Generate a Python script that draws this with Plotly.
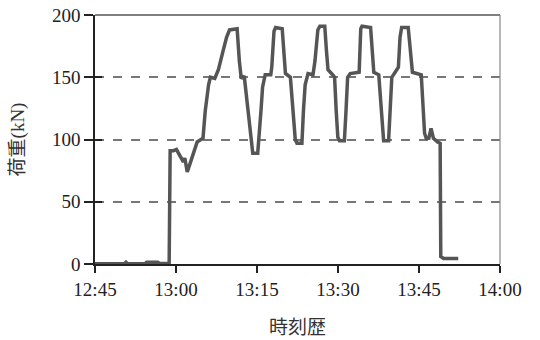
import plotly.graph_objects as go

DAY = "2000-01-01 "

times = [
    "12:45:00", "12:50:27", "12:50:44", "12:51:00", "12:54:16", "12:54:33",
    "12:56:38", "12:56:55", "12:58:44", "12:58:55", "12:59:33", "13:00:05",
    "13:00:35", "13:01:00", "13:01:22", "13:01:38", "13:02:05", "13:02:38",
    "13:03:19", "13:03:55", "13:05:00", "13:05:25", "13:06:02", "13:06:22",
    "13:07:11", "13:07:51", "13:08:46", "13:09:22", "13:09:55", "13:11:19",
    "13:11:44", "13:12:05", "13:12:38", "13:13:19", "13:13:55", "13:14:13",
    "13:15:08", "13:15:25", "13:15:44", "13:16:02", "13:16:31", "13:17:33",
    "13:17:44", "13:18:09", "13:18:27", "13:19:40", "13:19:58", "13:20:16",
    "13:21:11", "13:21:29", "13:21:47", "13:22:05", "13:22:24", "13:23:19",
    "13:23:36", "13:23:55", "13:24:27", "13:25:22", "13:25:44", "13:26:16",
    "13:26:38", "13:27:33", "13:27:51", "13:28:09", "13:29:00", "13:29:22",
    "13:29:40", "13:29:58", "13:30:16", "13:31:11", "13:31:29", "13:31:47",
    "13:32:16", "13:33:55", "13:34:13", "13:34:27", "13:36:02", "13:36:20",
    "13:36:38", "13:37:33", "13:37:51", "13:38:09", "13:38:27", "13:39:22",
    "13:39:40", "13:39:58", "13:40:35", "13:41:11", "13:41:29", "13:41:47",
    "13:43:00", "13:43:19", "13:43:47", "13:45:25", "13:45:44", "13:46:02",
    "13:46:20", "13:46:49", "13:47:14", "13:47:40", "13:48:27", "13:48:55",
    "13:49:02", "13:49:33", "13:52:16",
]

load_kN = [
    0.3, 0.3, 1.5, 0.3, 0.3, 1.5,
    1.5, 0.5, 0.5, 91, 91, 92,
    88, 84, 82, 85, 74, 81,
    91, 98, 101, 123, 144, 150,
    149, 156, 172, 182, 188, 189,
    163, 149, 151, 123, 100, 89,
    89, 102, 123, 142, 152, 152,
    158, 187, 190, 189, 174, 153,
    150, 134, 115, 100, 97, 97,
    123, 144, 153, 152, 163, 188,
    191, 191, 172, 156, 152, 150,
    123, 102, 99, 99, 123, 150,
    153, 154, 189, 191, 190, 172,
    154, 152, 131, 113, 99, 99,
    123, 150, 154, 158, 182, 190,
    190, 172, 154, 152, 126, 105,
    101, 101, 109, 101, 98, 97,
    6, 4.5, 4.5,
]

x_ticks = ["12:45", "13:00", "13:15", "13:30", "13:45", "14:00"]
y_ticks = [0, 50, 100, 150, 200]

x_vals = [DAY + t for t in times]
x_tickvals = [DAY + t + ":00" for t in x_ticks]

SERIF = "Liberation Serif, Times New Roman, serif"
MIXED = "Liberation Serif, Noto Sans CJK JP, serif"

fig = go.Figure()
fig.add_trace(go.Scatter(
    x=x_vals, y=load_kN, mode="lines",
    line=dict(color="#555555", width=3.5),
    showlegend=False, hoverinfo="skip",
))
# invisible trace carrying an overlaid axis that draws the inner half of the y ticks
fig.add_trace(go.Scatter(
    x=[x_vals[0]], y=[0], yaxis="y2", mode="markers",
    marker=dict(opacity=0), showlegend=False, hoverinfo="skip",
))

fig.update_layout(
    width=540, height=340,
    margin=dict(l=95, r=40, t=15, b=76),
    paper_bgcolor="white", plot_bgcolor="white",
    font=dict(family=SERIF, color="#222222", size=19),
    xaxis=dict(
        type="date", automargin=False,
        range=[x_tickvals[0], x_tickvals[-1]],
        tickvals=x_tickvals, ticktext=x_ticks,
        ticks="outside", ticklen=7, tickwidth=1.5, tickcolor="#222222",
        showline=True, linecolor="#222222", linewidth=1.5,
        showgrid=False, zeroline=False,
        tickfont=dict(family=SERIF, size=19, color="#222222"),
        title=dict(text="時刻歴", standoff=22,
                   font=dict(family=MIXED, size=19, color="#333333")),
    ),
    yaxis=dict(
        automargin=False,
        range=[0, 200], tickvals=y_ticks,
        ticks="outside", ticklen=9, tickwidth=1.5, tickcolor="#222222",
        showline=True, linecolor="#222222", linewidth=1.5,
        showgrid=True, gridcolor="#777777", gridwidth=1.5, griddash="dash",
        zeroline=False,
        tickfont=dict(family=SERIF, size=19, color="#222222"),
        title=dict(text="荷重(kN)", standoff=22,
                   font=dict(family=MIXED, size=19, color="#333333")),
    ),
    yaxis2=dict(
        overlaying="y", side="left", matches="y", range=[0, 200],
        tickvals=y_ticks[1:4], showticklabels=False,
        ticks="inside", ticklen=7, tickwidth=1.5, tickcolor="#222222",
        showline=False, showgrid=False, zeroline=False,
    ),
    shapes=[
        dict(type="line", xref="paper", yref="paper", x0=0, x1=1, y0=1, y1=1,
             line=dict(color="#555555", width=1.5)),
        dict(type="line", xref="paper", yref="paper", x0=1, x1=1, y0=0, y1=1,
             line=dict(color="#888888", width=1.2)),
    ],
)

fig.write_html("out.html")
